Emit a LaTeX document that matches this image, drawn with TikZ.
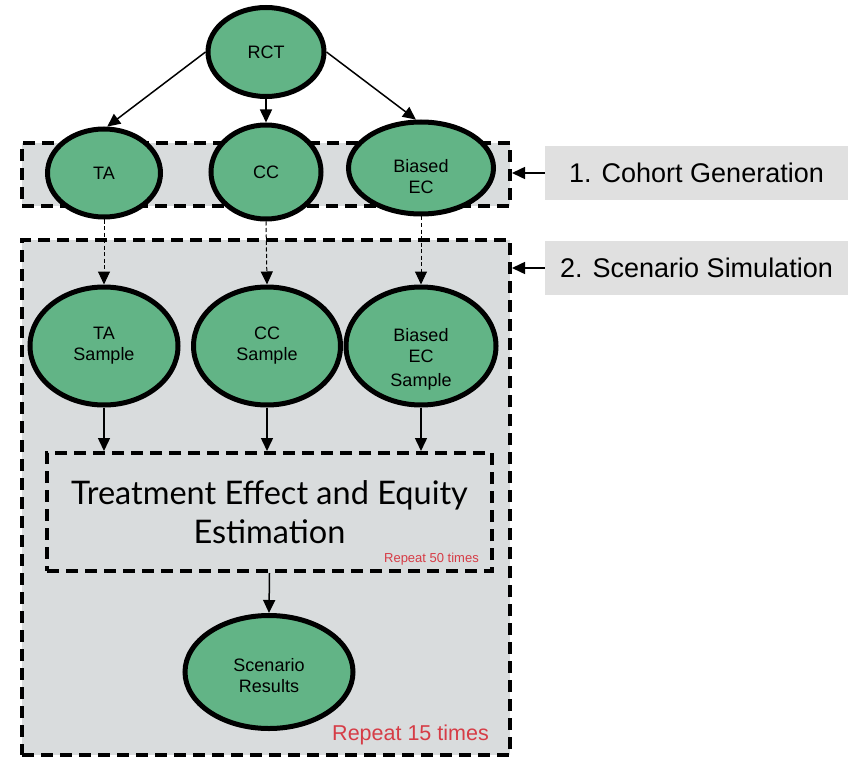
\documentclass[tikz,border=0pt]{standalone}
\usepackage{fontspec}
\setmainfont{Liberation Sans}
\newfontfamily\titlefont{Lato}
\usetikzlibrary{arrows.meta,shapes.geometric}
\definecolor{nodegreen}{HTML}{62B486}
\definecolor{panelgray}{HTML}{D9DCDD}
\definecolor{labelgray}{HTML}{E0E0E0}
\definecolor{repeatred}{HTML}{D63C46}
\tikzset{
  x=1pt, y=-1pt,
  blob/.style={ellipse, draw=black, line width=5pt, fill=nodegreen, inner sep=0pt,
    align=center, font=\fontsize{18}{21}\selectfont},
  blobtext/.style={align=center, inner sep=0pt, font=\fontsize{18}{21}\selectfont},
  panel/.style={draw=black, line width=4pt, dash pattern=on 12pt off 7pt, fill=panelgray,
    inner sep=0pt},
  stagelabel/.style={fill=labelgray, minimum width=303pt, minimum height=54pt, inner sep=0pt,
    font=\fontsize{27}{30}\selectfont},
  flow/.style={line width=1.5pt, -{Triangle[length=13pt,width=12pt]}},
  sampleflow/.style={line width=1pt, dash pattern=on 4pt off 2.5pt, -{Triangle[length=13pt,width=12pt]}},
  note/.style={text=repeatred, inner sep=0pt, anchor=east}
}
\begin{document}
\begin{tikzpicture}
\useasboundingbox (0,0) rectangle (858,759);

% stage panels
\node[panel, minimum width=488pt, minimum height=63pt] (cohort) at (266,174.5) {};
\node[panel, minimum width=488pt, minimum height=515pt] (scen) at (266,497.5) {};

% stage labels
\node[stagelabel] (lab1) at (696.5,173) {1. Cohort Generation};
\node[stagelabel] (lab2) at (696.5,268) {2. Scenario Simulation};
\draw[flow] (lab1.west) -- (lab1.west -| cohort.east);
\draw[flow] (lab2.west) -- (lab2.west -| scen.east);

% cohort generation
\node[blob, minimum width=116pt, minimum height=89pt] (rct) at (266,52) {RCT};
\node[blob, minimum width=113pt, minimum height=88pt] (ta) at (104,173) {\raisebox{-3pt}{TA}};
\node[blob, minimum width=110pt, minimum height=94pt] (cc) at (266,172) {CC};
\node[blob, minimum width=145pt, minimum height=92pt] (ec) at (421,168) {};
\node[blobtext] (ectext) at (421,177) {Biased\\EC};

\draw[flow] (rct.180) -- (ta.86);
\draw[flow] (rct.south) -- (cc.north);
\draw[flow] (rct.0) -- (ec.96);

% sampling
\node[blob, minimum width=148pt, minimum height=118pt] (tas) at (104,346) {TA\\Sample};
\node[blob, minimum width=147pt, minimum height=118pt] (ccs) at (267,346) {CC\\Sample};
\node[blob, minimum width=150pt, minimum height=118pt] (ecs) at (421,346) {};
\node[blobtext] (ecstext) at (421,359) {Biased\\EC\\[3pt]Sample};

\draw[sampleflow] (ta.south) -- (tas.north);
\draw[sampleflow] (cc.south) -- (ccs.north);
\draw[sampleflow] (ec.south) -- (ecs.north);

% estimation
\node[panel, minimum width=445pt, minimum height=118pt, align=center,
  font=\titlefont\fontsize{32.5}{39}\selectfont] (est) at (269.5,512)
  {Treatment Effect and Equity\\Estimation};
\node[note, font=\fontsize{13}{15}\selectfont] (rep50) at (479,559) {Repeat 50 times};

\draw[flow] (tas.south) -- (tas.south |- est.north);
\draw[flow] (ccs.south) -- (ccs.south |- est.north);
\draw[flow] (ecs.south) -- (ecs.south |- est.north);

% results
\node[blob, minimum width=168pt, minimum height=113pt] (res) at (269,672) {};
\node[blobtext] (restext) at (269,676) {Scenario\\Results};
\draw[flow] (est.south) -- (res.north);
\node[note, font=\fontsize{21.5}{25}\selectfont] (rep15) at (489,735) {Repeat 15 times};
\end{tikzpicture}
\end{document}
